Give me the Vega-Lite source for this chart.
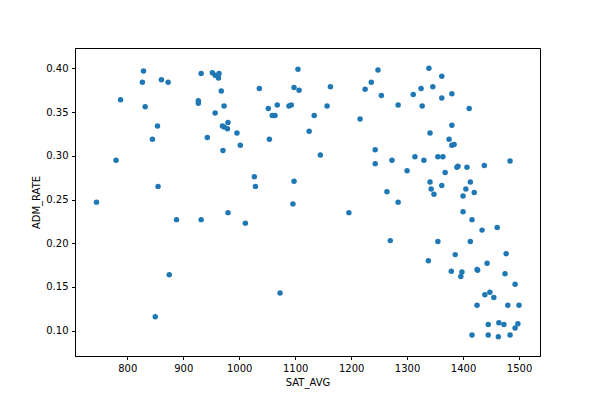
{
  "$schema": "https://vega.github.io/schema/vega-lite/v6.json",
  "width": 465,
  "height": 308,
  "autosize": {"type": "none"},
  "padding": {"left": 75, "top": 48, "right": 60, "bottom": 44},
  "background": "white",
  "config": {
    "view": {"stroke": "black", "strokeWidth": 1},
    "font": "DejaVu Sans",
    "axis": {
      "grid": false,
      "domainColor": "black",
      "tickColor": "black",
      "tickSize": 3.5,
      "labelPadding": 3.5,
      "labelFont": "DejaVu Sans",
      "labelFontSize": 10,
      "labelColor": "black",
      "titleFont": "DejaVu Sans",
      "titleFontSize": 10,
      "titleFontWeight": "normal",
      "titleColor": "black",
      "titlePadding": 4
    }
  },
  "data": {
    "values": [
      {"SAT_AVG": 745, "ADM_RATE": 0.247},
      {"SAT_AVG": 780, "ADM_RATE": 0.295},
      {"SAT_AVG": 788, "ADM_RATE": 0.364},
      {"SAT_AVG": 827, "ADM_RATE": 0.384},
      {"SAT_AVG": 829, "ADM_RATE": 0.397},
      {"SAT_AVG": 832, "ADM_RATE": 0.356},
      {"SAT_AVG": 845, "ADM_RATE": 0.319},
      {"SAT_AVG": 850, "ADM_RATE": 0.116},
      {"SAT_AVG": 854, "ADM_RATE": 0.334},
      {"SAT_AVG": 855, "ADM_RATE": 0.265},
      {"SAT_AVG": 861, "ADM_RATE": 0.387},
      {"SAT_AVG": 873, "ADM_RATE": 0.384},
      {"SAT_AVG": 875, "ADM_RATE": 0.164},
      {"SAT_AVG": 888, "ADM_RATE": 0.227},
      {"SAT_AVG": 927, "ADM_RATE": 0.363},
      {"SAT_AVG": 927, "ADM_RATE": 0.360},
      {"SAT_AVG": 932, "ADM_RATE": 0.394},
      {"SAT_AVG": 932, "ADM_RATE": 0.227},
      {"SAT_AVG": 943, "ADM_RATE": 0.321},
      {"SAT_AVG": 952, "ADM_RATE": 0.395},
      {"SAT_AVG": 957, "ADM_RATE": 0.392},
      {"SAT_AVG": 957, "ADM_RATE": 0.349},
      {"SAT_AVG": 963, "ADM_RATE": 0.389},
      {"SAT_AVG": 964, "ADM_RATE": 0.394},
      {"SAT_AVG": 968, "ADM_RATE": 0.374},
      {"SAT_AVG": 970, "ADM_RATE": 0.334},
      {"SAT_AVG": 971, "ADM_RATE": 0.306},
      {"SAT_AVG": 973, "ADM_RATE": 0.333},
      {"SAT_AVG": 973, "ADM_RATE": 0.357},
      {"SAT_AVG": 979, "ADM_RATE": 0.331},
      {"SAT_AVG": 980, "ADM_RATE": 0.338},
      {"SAT_AVG": 980, "ADM_RATE": 0.235},
      {"SAT_AVG": 996, "ADM_RATE": 0.326},
      {"SAT_AVG": 1002, "ADM_RATE": 0.312},
      {"SAT_AVG": 1011, "ADM_RATE": 0.223},
      {"SAT_AVG": 1027, "ADM_RATE": 0.276},
      {"SAT_AVG": 1029, "ADM_RATE": 0.265},
      {"SAT_AVG": 1036, "ADM_RATE": 0.377},
      {"SAT_AVG": 1052, "ADM_RATE": 0.354},
      {"SAT_AVG": 1054, "ADM_RATE": 0.319},
      {"SAT_AVG": 1059, "ADM_RATE": 0.346},
      {"SAT_AVG": 1064, "ADM_RATE": 0.346},
      {"SAT_AVG": 1068, "ADM_RATE": 0.358},
      {"SAT_AVG": 1073, "ADM_RATE": 0.143},
      {"SAT_AVG": 1089, "ADM_RATE": 0.357},
      {"SAT_AVG": 1093, "ADM_RATE": 0.358},
      {"SAT_AVG": 1096, "ADM_RATE": 0.245},
      {"SAT_AVG": 1098, "ADM_RATE": 0.271},
      {"SAT_AVG": 1098, "ADM_RATE": 0.378},
      {"SAT_AVG": 1105, "ADM_RATE": 0.399},
      {"SAT_AVG": 1107, "ADM_RATE": 0.375},
      {"SAT_AVG": 1125, "ADM_RATE": 0.328},
      {"SAT_AVG": 1134, "ADM_RATE": 0.346},
      {"SAT_AVG": 1145, "ADM_RATE": 0.301},
      {"SAT_AVG": 1157, "ADM_RATE": 0.357},
      {"SAT_AVG": 1163, "ADM_RATE": 0.379},
      {"SAT_AVG": 1196, "ADM_RATE": 0.235},
      {"SAT_AVG": 1216, "ADM_RATE": 0.342},
      {"SAT_AVG": 1225, "ADM_RATE": 0.376},
      {"SAT_AVG": 1236, "ADM_RATE": 0.384},
      {"SAT_AVG": 1243, "ADM_RATE": 0.307},
      {"SAT_AVG": 1243, "ADM_RATE": 0.291},
      {"SAT_AVG": 1248, "ADM_RATE": 0.398},
      {"SAT_AVG": 1254, "ADM_RATE": 0.369},
      {"SAT_AVG": 1264, "ADM_RATE": 0.259},
      {"SAT_AVG": 1270, "ADM_RATE": 0.203},
      {"SAT_AVG": 1273, "ADM_RATE": 0.295},
      {"SAT_AVG": 1284, "ADM_RATE": 0.358},
      {"SAT_AVG": 1284, "ADM_RATE": 0.247},
      {"SAT_AVG": 1300, "ADM_RATE": 0.283},
      {"SAT_AVG": 1311, "ADM_RATE": 0.370},
      {"SAT_AVG": 1314, "ADM_RATE": 0.299},
      {"SAT_AVG": 1325, "ADM_RATE": 0.377},
      {"SAT_AVG": 1327, "ADM_RATE": 0.357},
      {"SAT_AVG": 1330, "ADM_RATE": 0.295},
      {"SAT_AVG": 1338, "ADM_RATE": 0.180},
      {"SAT_AVG": 1339, "ADM_RATE": 0.400},
      {"SAT_AVG": 1341, "ADM_RATE": 0.326},
      {"SAT_AVG": 1341, "ADM_RATE": 0.270},
      {"SAT_AVG": 1343, "ADM_RATE": 0.262},
      {"SAT_AVG": 1346, "ADM_RATE": 0.379},
      {"SAT_AVG": 1348, "ADM_RATE": 0.256},
      {"SAT_AVG": 1355, "ADM_RATE": 0.299},
      {"SAT_AVG": 1355, "ADM_RATE": 0.202},
      {"SAT_AVG": 1362, "ADM_RATE": 0.391},
      {"SAT_AVG": 1362, "ADM_RATE": 0.366},
      {"SAT_AVG": 1362, "ADM_RATE": 0.266},
      {"SAT_AVG": 1364, "ADM_RATE": 0.299},
      {"SAT_AVG": 1368, "ADM_RATE": 0.281},
      {"SAT_AVG": 1375, "ADM_RATE": 0.319},
      {"SAT_AVG": 1379, "ADM_RATE": 0.168},
      {"SAT_AVG": 1380, "ADM_RATE": 0.371},
      {"SAT_AVG": 1380, "ADM_RATE": 0.335},
      {"SAT_AVG": 1380, "ADM_RATE": 0.312},
      {"SAT_AVG": 1384, "ADM_RATE": 0.313},
      {"SAT_AVG": 1386, "ADM_RATE": 0.187},
      {"SAT_AVG": 1389, "ADM_RATE": 0.287},
      {"SAT_AVG": 1391, "ADM_RATE": 0.288},
      {"SAT_AVG": 1396, "ADM_RATE": 0.162},
      {"SAT_AVG": 1398, "ADM_RATE": 0.167},
      {"SAT_AVG": 1400, "ADM_RATE": 0.254},
      {"SAT_AVG": 1400, "ADM_RATE": 0.236},
      {"SAT_AVG": 1405, "ADM_RATE": 0.262},
      {"SAT_AVG": 1407, "ADM_RATE": 0.287},
      {"SAT_AVG": 1411, "ADM_RATE": 0.354},
      {"SAT_AVG": 1413, "ADM_RATE": 0.270},
      {"SAT_AVG": 1413, "ADM_RATE": 0.202},
      {"SAT_AVG": 1416, "ADM_RATE": 0.227},
      {"SAT_AVG": 1416, "ADM_RATE": 0.095},
      {"SAT_AVG": 1420, "ADM_RATE": 0.258},
      {"SAT_AVG": 1425, "ADM_RATE": 0.170},
      {"SAT_AVG": 1426, "ADM_RATE": 0.169},
      {"SAT_AVG": 1425, "ADM_RATE": 0.129},
      {"SAT_AVG": 1434, "ADM_RATE": 0.215},
      {"SAT_AVG": 1438, "ADM_RATE": 0.289},
      {"SAT_AVG": 1439, "ADM_RATE": 0.141},
      {"SAT_AVG": 1443, "ADM_RATE": 0.177},
      {"SAT_AVG": 1445, "ADM_RATE": 0.107},
      {"SAT_AVG": 1445, "ADM_RATE": 0.095},
      {"SAT_AVG": 1448, "ADM_RATE": 0.144},
      {"SAT_AVG": 1455, "ADM_RATE": 0.138},
      {"SAT_AVG": 1461, "ADM_RATE": 0.218},
      {"SAT_AVG": 1463, "ADM_RATE": 0.093},
      {"SAT_AVG": 1464, "ADM_RATE": 0.109},
      {"SAT_AVG": 1473, "ADM_RATE": 0.107},
      {"SAT_AVG": 1475, "ADM_RATE": 0.165},
      {"SAT_AVG": 1477, "ADM_RATE": 0.188},
      {"SAT_AVG": 1480, "ADM_RATE": 0.129},
      {"SAT_AVG": 1484, "ADM_RATE": 0.294},
      {"SAT_AVG": 1484, "ADM_RATE": 0.095},
      {"SAT_AVG": 1493, "ADM_RATE": 0.153},
      {"SAT_AVG": 1493, "ADM_RATE": 0.103},
      {"SAT_AVG": 1498, "ADM_RATE": 0.108},
      {"SAT_AVG": 1500, "ADM_RATE": 0.129}
    ]
  },
  "mark": {"type": "circle", "color": "#1f77b4", "opacity": 1, "size": 30},
  "encoding": {
    "x": {
      "field": "SAT_AVG",
      "type": "quantitative",
      "title": "SAT_AVG",
      "scale": {"domain": [706.6, 1537.5], "nice": false, "zero": false},
      "axis": {"values": [800, 900, 1000, 1100, 1200, 1300, 1400, 1500], "format": "d"}
    },
    "y": {
      "field": "ADM_RATE",
      "type": "quantitative",
      "title": "ADM_RATE",
      "scale": {"domain": [0.0711, 0.4232], "nice": false, "zero": false},
      "axis": {"values": [0.10, 0.15, 0.20, 0.25, 0.30, 0.35, 0.40], "format": ".2f"}
    }
  }
}
